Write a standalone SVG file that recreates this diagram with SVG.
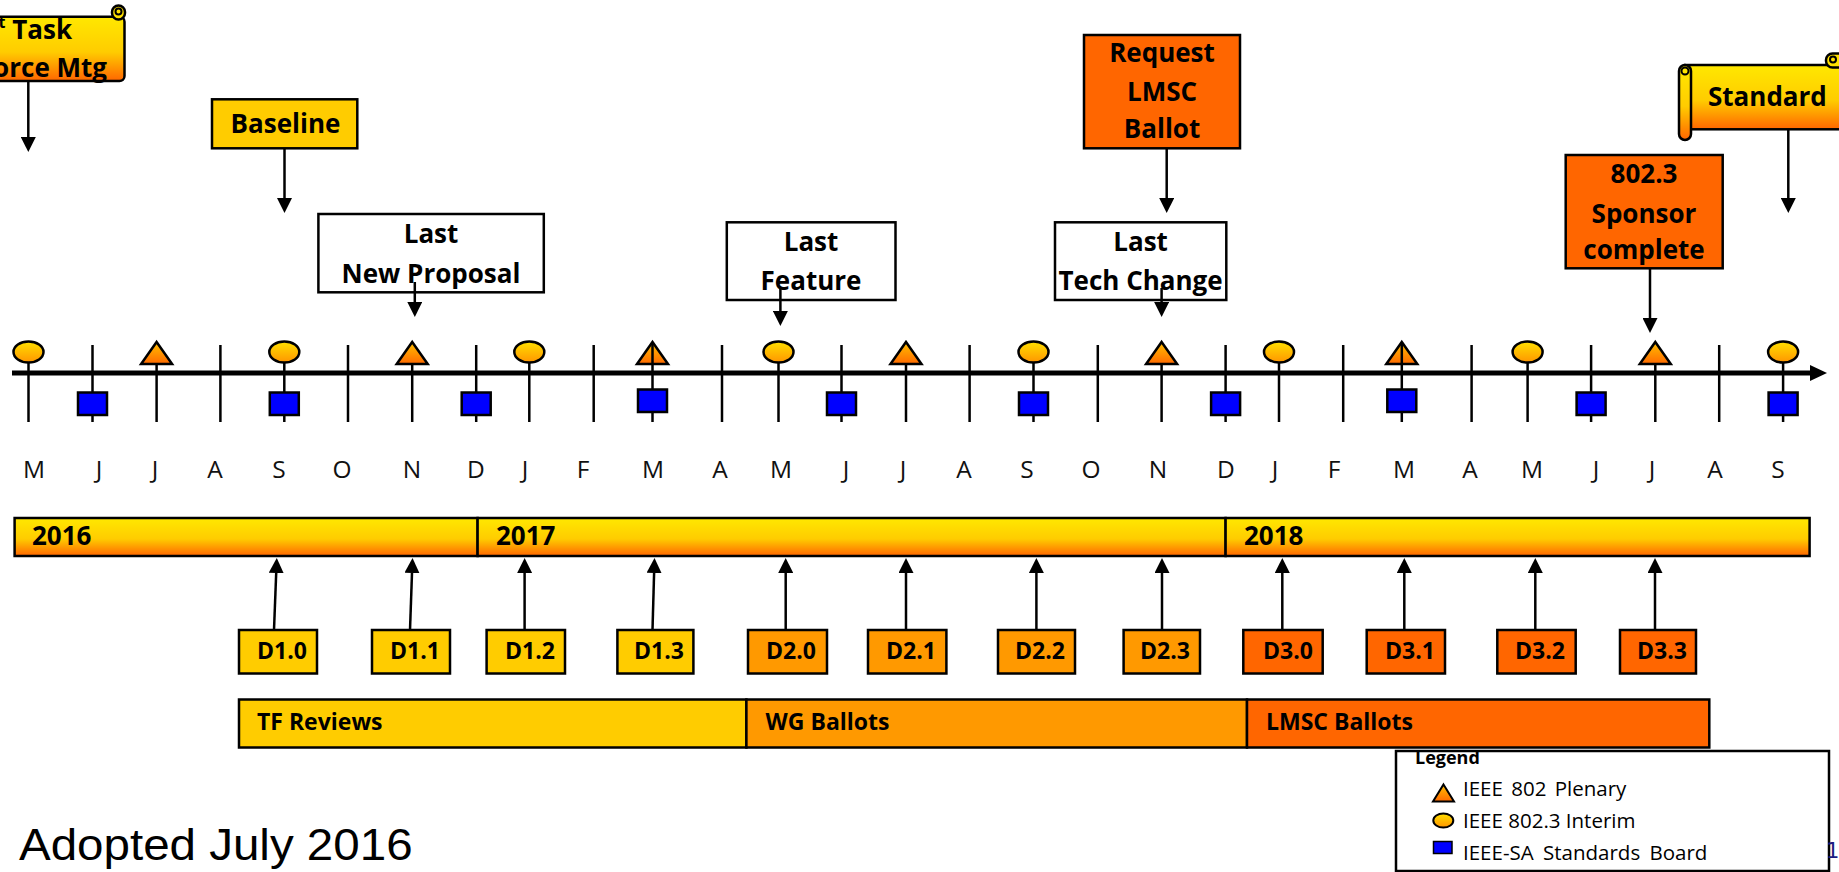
<svg xmlns="http://www.w3.org/2000/svg" width="1839" height="872" viewBox="0 0 1839 872">
<style>
.b{font-family:"Open Sans","Liberation Sans",sans-serif;font-weight:700;fill:#000}
.c{text-anchor:middle}
.t26{font-size:26px}
.d{font-size:23px}
.mon{font-family:"Open Sans","Liberation Sans",sans-serif;font-size:24.5px;text-anchor:middle;fill:#111}
.lg{font-family:"Open Sans","Liberation Sans",sans-serif;font-size:20.5px;fill:#000}
.box{stroke:#000;stroke-width:2.5}
.tick{stroke:#000;stroke-width:2.5}
.conn{stroke:#000;stroke-width:2.5;fill:none;marker-end:url(#ah)}
.sq{fill:#0000FF;stroke:#000;stroke-width:2.5}
.el{fill:url(#gEll);stroke:#000;stroke-width:2.5}
.tr{fill:url(#gTri);stroke:#000;stroke-width:2.5;stroke-linejoin:miter}
</style>
<defs>
<marker id="ah" markerUnits="userSpaceOnUse" markerWidth="15" markerHeight="15" viewBox="0 0 15 15" refX="0" refY="7.5" orient="auto"><path d="M0,0 L15,7.5 L0,15 Z" fill="#000"/></marker>
<linearGradient id="gBar" x1="0" y1="0" x2="0" y2="1"><stop offset="0" stop-color="#FFE800"/><stop offset="0.55" stop-color="#FFCC00"/><stop offset="1" stop-color="#FF6600"/></linearGradient>
<linearGradient id="gEll" x1="0" y1="0" x2="0" y2="1"><stop offset="0" stop-color="#FFE000"/><stop offset="1" stop-color="#FF9500"/></linearGradient>
<linearGradient id="gTri" x1="0" y1="0" x2="0" y2="1"><stop offset="0" stop-color="#FFC000"/><stop offset="1" stop-color="#FF6A00"/></linearGradient>
</defs>
<rect width="1839" height="872" fill="#fff"/>

<g id="timeline">
<g class="tick">
<line x1="28.5" y1="345" x2="28.5" y2="422"/><line x1="92.5" y1="345" x2="92.5" y2="422"/><line x1="156.6" y1="345" x2="156.6" y2="422"/><line x1="220.4" y1="345" x2="220.4" y2="422"/><line x1="284.3" y1="345" x2="284.3" y2="422"/><line x1="348" y1="345" x2="348" y2="422"/><line x1="412.2" y1="345" x2="412.2" y2="422"/><line x1="476.2" y1="345" x2="476.2" y2="422"/>
<line x1="529.3" y1="345" x2="529.3" y2="422"/><line x1="593.7" y1="345" x2="593.7" y2="422"/><line x1="722" y1="345" x2="722" y2="422"/><line x1="778.5" y1="345" x2="778.5" y2="422"/><line x1="841.5" y1="345" x2="841.5" y2="422"/><line x1="906" y1="345" x2="906" y2="422"/><line x1="969.6" y1="345" x2="969.6" y2="422"/><line x1="1033.5" y1="345" x2="1033.5" y2="422"/><line x1="1097.8" y1="345" x2="1097.8" y2="422"/><line x1="1161.6" y1="345" x2="1161.6" y2="422"/><line x1="1225.6" y1="345" x2="1225.6" y2="422"/>
<line x1="1279" y1="345" x2="1279" y2="422"/><line x1="1343.2" y1="345" x2="1343.2" y2="422"/><line x1="1471.6" y1="345" x2="1471.6" y2="422"/><line x1="1527.6" y1="345" x2="1527.6" y2="422"/><line x1="1591.1" y1="345" x2="1591.1" y2="422"/><line x1="1655.3" y1="345" x2="1655.3" y2="422"/><line x1="1719.2" y1="345" x2="1719.2" y2="422"/><line x1="1783.1" y1="345" x2="1783.1" y2="422"/>
</g>
<line x1="12" y1="373" x2="1812" y2="373" stroke="#000" stroke-width="5"/>
<polygon points="1810,365 1827,373 1810,381" fill="#000"/>
<ellipse class="el" cx="28.5" cy="352" rx="15" ry="10.5"/>
<ellipse class="el" cx="284.3" cy="352" rx="15" ry="10.5"/>
<ellipse class="el" cx="529.3" cy="352" rx="15" ry="10.5"/>
<ellipse class="el" cx="778.5" cy="352" rx="15" ry="10.5"/>
<ellipse class="el" cx="1033.5" cy="352" rx="15" ry="10.5"/>
<ellipse class="el" cx="1279" cy="352" rx="15" ry="10.5"/>
<ellipse class="el" cx="1527.6" cy="352" rx="15" ry="10.5"/>
<ellipse class="el" cx="1783.1" cy="352" rx="15" ry="10.5"/>
<polygon class="tr" points="156.6,342 172.1,364 141.1,364"/>
<polygon class="tr" points="412.2,342 427.7,364 396.7,364"/>
<polygon class="tr" points="652.5,342 668,364 637,364"/>
<polygon class="tr" points="906,342 921.5,364 890.5,364"/>
<polygon class="tr" points="1161.6,342 1177.1,364 1146.1,364"/>
<polygon class="tr" points="1401.8,342 1417.3,364 1386.3,364"/>
<polygon class="tr" points="1655.3,342 1670.8,364 1639.8,364"/>
<line class="tick" x1="652.5" y1="342" x2="652.5" y2="422"/>
<line class="tick" x1="1401.8" y1="342" x2="1401.8" y2="422"/>
<rect class="sq" x="78" y="392.5" width="29" height="22.5"/>
<rect class="sq" x="269.8" y="392.5" width="29" height="22.5"/>
<rect class="sq" x="461.7" y="392.5" width="29" height="22.5"/>
<rect class="sq" x="638" y="389.5" width="29" height="22.5"/>
<rect class="sq" x="827" y="392.5" width="29" height="22.5"/>
<rect class="sq" x="1019" y="392.5" width="29" height="22.5"/>
<rect class="sq" x="1211.1" y="392.5" width="29" height="22.5"/>
<rect class="sq" x="1387.3" y="389.5" width="29" height="22.5"/>
<rect class="sq" x="1576.6" y="392.5" width="29" height="22.5"/>
<rect class="sq" x="1768.6" y="392.5" width="29" height="22.5"/>
</g>

<g id="months">
<text class="mon" x="34" y="478">M</text><text class="mon" x="99" y="478">J</text><text class="mon" x="155" y="478">J</text><text class="mon" x="215" y="478">A</text><text class="mon" x="279" y="478">S</text><text class="mon" x="342" y="478">O</text><text class="mon" x="412" y="478">N</text><text class="mon" x="476" y="478">D</text>
<text class="mon" x="525" y="478">J</text><text class="mon" x="583" y="478">F</text><text class="mon" x="653" y="478">M</text><text class="mon" x="720" y="478">A</text><text class="mon" x="781" y="478">M</text><text class="mon" x="846" y="478">J</text><text class="mon" x="903" y="478">J</text><text class="mon" x="964" y="478">A</text><text class="mon" x="1027" y="478">S</text><text class="mon" x="1091" y="478">O</text><text class="mon" x="1158" y="478">N</text><text class="mon" x="1226" y="478">D</text>
<text class="mon" x="1275" y="478">J</text><text class="mon" x="1334" y="478">F</text><text class="mon" x="1404" y="478">M</text><text class="mon" x="1470" y="478">A</text><text class="mon" x="1532" y="478">M</text><text class="mon" x="1596" y="478">J</text><text class="mon" x="1652" y="478">J</text><text class="mon" x="1715" y="478">A</text><text class="mon" x="1778" y="478">S</text>
</g>

<g id="year-2016"><rect class="box" x="14.6" y="518" width="463" height="38" fill="url(#gBar)"/><text class="b t26" x="32" y="545">2016</text></g>
<g id="year-2017"><rect class="box" x="477.6" y="518" width="748" height="38" fill="url(#gBar)"/><text class="b t26" x="496" y="545">2017</text></g>
<g id="year-2018"><rect class="box" x="1225.6" y="518" width="584" height="38" fill="url(#gBar)"/><text class="b t26" x="1244" y="545">2018</text></g>

<g id="D1.0"><rect class="box" x="239" y="630" width="78" height="43.5" fill="#FFCC00"/><text class="b d c" x="282" y="659">D1.0</text></g>
<g id="D1.1"><rect class="box" x="372" y="630" width="78" height="43.5" fill="#FFCC00"/><text class="b d c" x="415" y="659">D1.1</text></g>
<g id="D1.2"><rect class="box" x="486.6" y="630" width="78.4" height="43.5" fill="#FFCC00"/><text class="b d c" x="530" y="659">D1.2</text></g>
<g id="D1.3"><rect class="box" x="617.4" y="630" width="76" height="43.5" fill="#FFCC00"/><text class="b d c" x="659" y="659">D1.3</text></g>
<g id="D2.0"><rect class="box" x="748" y="630" width="79" height="43.5" fill="#FF9900"/><text class="b d c" x="791" y="659">D2.0</text></g>
<g id="D2.1"><rect class="box" x="868" y="630" width="78.4" height="43.5" fill="#FF9900"/><text class="b d c" x="911" y="659">D2.1</text></g>
<g id="D2.2"><rect class="box" x="998" y="630" width="77" height="43.5" fill="#FF9900"/><text class="b d c" x="1040" y="659">D2.2</text></g>
<g id="D2.3"><rect class="box" x="1123.6" y="630" width="76.4" height="43.5" fill="#FF9900"/><text class="b d c" x="1165" y="659">D2.3</text></g>
<g id="D3.0"><rect class="box" x="1243.3" y="630" width="79.4" height="43.5" fill="#FF6600"/><text class="b d c" x="1288" y="659">D3.0</text></g>
<g id="D3.1"><rect class="box" x="1366.7" y="630" width="78.3" height="43.5" fill="#FF6600"/><text class="b d c" x="1410" y="659">D3.1</text></g>
<g id="D3.2"><rect class="box" x="1497.3" y="630" width="78.4" height="43.5" fill="#FF6600"/><text class="b d c" x="1540" y="659">D3.2</text></g>
<g id="D3.3"><rect class="box" x="1620" y="630" width="76" height="43.5" fill="#FF6600"/><text class="b d c" x="1662" y="659">D3.3</text></g>

<g id="legend">
<rect x="1396" y="751" width="433" height="120" fill="#fff" stroke="#000" stroke-width="2.5"/>
<text class="b" x="1415" y="764" font-size="18">Legend</text>
<polygon points="1443.5,784.5 1454,801.5 1433,801.5" fill="url(#gTri)" stroke="#000" stroke-width="2"/>
<text class="lg" x="1463" y="796" word-spacing="3">IEEE 802 Plenary</text>
<ellipse cx="1443.3" cy="820.5" rx="10" ry="7" fill="url(#gEll)" stroke="#000" stroke-width="2"/>
<text class="lg" x="1463" y="828">IEEE 802.3 Interim</text>
<rect x="1433.5" y="841.5" width="18.5" height="12" fill="#0000FF" stroke="#000" stroke-width="1.5"/>
<text class="lg" x="1463" y="860" word-spacing="4">IEEE-SA Standards Board</text>
</g>

<g id="TF-Reviews"><rect class="box" x="239" y="699.5" width="507.4" height="48" fill="#FFCC00"/><text class="b" x="257" y="730" font-size="23">TF Reviews</text></g>
<g id="WG-Ballots"><rect class="box" x="746.4" y="699.5" width="500.6" height="48" fill="#FF9900"/><text class="b" x="765.6" y="730" font-size="23">WG Ballots</text></g>
<g id="LMSC-Ballots"><rect class="box" x="1247" y="699.5" width="462.3" height="48" fill="#FF6600"/><text class="b" x="1266" y="730" font-size="23">LMSC Ballots</text></g>

<g id="first-task-force">
<rect x="-80" y="16.7" width="204.5" height="64.3" rx="5" fill="url(#gBar)" stroke="#000" stroke-width="2.5"/>
<rect x="112" y="5.5" width="13" height="14" rx="6.5" fill="#FFE000" stroke="#000" stroke-width="2.5"/>
<circle cx="118.5" cy="11.5" r="3" fill="none" stroke="#000" stroke-width="2"/>
<text class="b t26" text-anchor="end" x="72" y="39">1<tspan font-size="16" baseline-shift="super">st</tspan> Task</text>
<text class="b t26" text-anchor="end" x="107" y="77">Force Mtg</text>
</g>

<g id="baseline"><rect class="box" x="212" y="99.3" width="145.3" height="49" fill="#FFCC00"/><text class="b t26 c" x="285.5" y="132.7">Baseline</text></g>

<g id="last-new-proposal"><rect class="box" x="318.4" y="214" width="225.4" height="78.3" fill="#fff"/><text class="b t26 c" x="431" y="243.3">Last</text><text class="b t26 c" x="431" y="283.3">New Proposal</text></g>

<g id="last-feature"><rect class="box" x="726.8" y="222.3" width="168.7" height="77.7" fill="#fff"/><text class="b t26 c" x="811" y="250.7">Last</text><text class="b t26 c" x="811" y="290">Feature</text></g>

<g id="last-tech-change"><rect class="box" x="1055" y="222.3" width="171.3" height="77.7" fill="#fff"/><text class="b t26 c" x="1140.6" y="250.7">Last</text><text class="b t26 c" x="1140.6" y="290">Tech Change</text></g>

<g id="request-lmsc-ballot"><rect class="box" x="1084" y="35" width="156" height="113.3" fill="#FF6600"/><text class="b t26 c" x="1162" y="62">Request</text><text class="b t26 c" x="1162" y="101">LMSC</text><text class="b t26 c" x="1162" y="138">Ballot</text></g>

<g id="sponsor-complete"><rect class="box" x="1565.7" y="155" width="157" height="113.3" fill="#FF6600"/><text class="b t26 c" x="1644" y="183.3">802.3</text><text class="b t26 c" x="1644" y="222.7">Sponsor</text><text class="b t26 c" x="1644" y="259.3">complete</text></g>

<g id="standard">
<rect x="1685" y="65" width="175" height="64.3" fill="url(#gBar)" stroke="#000" stroke-width="2.5"/>
<rect x="1826" y="53.5" width="22" height="14" rx="6.5" fill="#FFE000" stroke="#000" stroke-width="2.5"/>
<circle cx="1833" cy="59.5" r="3" fill="none" stroke="#000" stroke-width="2"/>
<rect x="1679" y="65" width="12" height="75" rx="6" fill="url(#gBar)" stroke="#000" stroke-width="2.5"/>
<circle cx="1685" cy="71" r="3.5" fill="none" stroke="#000" stroke-width="2"/>
<text class="b t26" x="1708" y="106">Standard</text>
</g>

<g id="connectors">
<line class="conn" x1="28.3" y1="81" x2="28.3" y2="137"/>
<line class="conn" x1="284.5" y1="148.3" x2="284.5" y2="198"/>
<line class="conn" x1="414.8" y1="282" x2="414.8" y2="302"/>
<line class="conn" x1="780.4" y1="288" x2="780.4" y2="311"/>
<line class="conn" x1="1166.7" y1="148.3" x2="1166.7" y2="198"/>
<line class="conn" x1="1161.6" y1="288" x2="1161.6" y2="302"/>
<line class="conn" x1="1650" y1="268.3" x2="1650" y2="318"/>
<line class="conn" x1="1788.3" y1="129.3" x2="1788.3" y2="198"/>
<line class="conn" x1="274" y1="630" x2="276.2" y2="573"/>
<line class="conn" x1="410" y1="630" x2="412" y2="573"/>
<line class="conn" x1="524.6" y1="630" x2="524.6" y2="573"/>
<line class="conn" x1="652.5" y1="630" x2="654.1" y2="573"/>
<line class="conn" x1="785.7" y1="630" x2="785.7" y2="573"/>
<line class="conn" x1="906" y1="630" x2="906" y2="573"/>
<line class="conn" x1="1036.4" y1="630" x2="1036.4" y2="573"/>
<line class="conn" x1="1162" y1="630" x2="1162" y2="573"/>
<line class="conn" x1="1282.3" y1="630" x2="1282.3" y2="573"/>
<line class="conn" x1="1404.3" y1="630" x2="1404.3" y2="573"/>
<line class="conn" x1="1535.3" y1="630" x2="1535.3" y2="573"/>
<line class="conn" x1="1655" y1="630" x2="1655" y2="573"/>
</g>

<text transform="translate(19 860) scale(1.08 1)" x="0" y="0" font-family="Liberation Sans, Arial, sans-serif" font-size="44" fill="#000">Adopted July 2016</text>
<text x="1826" y="858" font-family="DejaVu Sans, sans-serif" font-size="21" fill="#1A1A80">1</text>
</svg>
